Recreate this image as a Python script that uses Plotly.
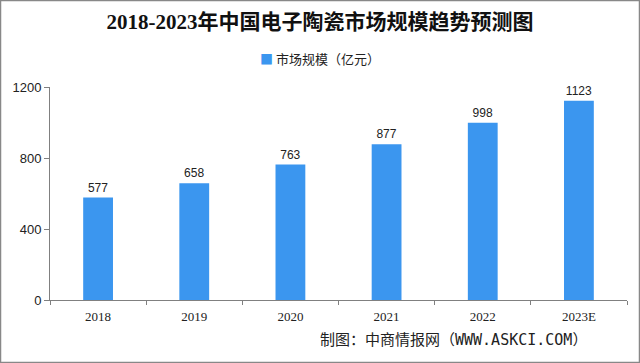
import plotly.graph_objects as go

categories = ["2018", "2019", "2020", "2021", "2022", "2023E"]
values = [577, 658, 763, 877, 998, 1123]
y_ticks = [0, 400, 800, 1200]
title_text = "2018-2023年中国电子陶瓷市场规模趋势预测图"
series_name = "市场规模（亿元）"
source_text = "制图：中商情报网（WWW.ASKCI.COM）"

PW, PH = 577.0, 213.0

fig = go.Figure()
fig.add_trace(go.Bar(
    x=categories, y=values, name=series_name,
    marker=dict(color="#3b96ef", line=dict(width=0)),
    text=[str(v) for v in values], textposition="outside",
    textfont=dict(size=12, color="#222222", family="Liberation Sans, Noto Sans CJK SC"),
    cliponaxis=False, showlegend=False,
))

fig.update_layout(
    width=640, height=363,
    margin=dict(l=50, r=13, t=87, b=63, autoexpand=False),
    paper_bgcolor="white", plot_bgcolor="white",
    bargap=0.69,
    showlegend=False,
    title=dict(text="<b>" + title_text + "</b>", x=0.5, xanchor="center", y=1 - 22 / 363, yref="container",
               yanchor="middle",
               font=dict(size=21, color="#111111", family="Liberation Serif, Noto Sans CJK SC")),
    font=dict(family="Liberation Sans, Noto Sans CJK SC", color="#222222"),
)

fig.update_xaxes(
    type="category", showline=True, linecolor="#808080", linewidth=1,
    ticks="outside", tickson="boundaries", ticklen=4, tickcolor="#808080",
    tickfont=dict(size=13, color="#222222", family="Liberation Serif"),
    ticklabelstandoff=4,
    showgrid=False,
)
fig.update_yaxes(
    range=[0, 1200], tickvals=y_ticks, showline=True, linecolor="#808080", linewidth=1,
    ticks="outside", ticklen=5, tickcolor="#808080",
    tickfont=dict(size=13, color="#222222", family="Liberation Sans"),
    showgrid=False, zeroline=False,
)

# legend drawn as compact text entry
fig.add_annotation(
    text="<span style='color:#3b96ef'>■</span> " + series_name,
    xref="paper", yref="paper", x=(320 - 50) / PW, y=1 + (87 - 58) / PH,
    xanchor="center", yanchor="middle", showarrow=False,
    font=dict(size=13, color="#222222", family="Noto Sans CJK SC"),
)

fig.add_shape(type="rect", xref="paper", yref="paper",
              x0=-49.5 / PW, x1=1 + 12.5 / PW, y0=-62.5 / PH, y1=1 + 86.5 / PH,
              line=dict(color="#888888", width=1.5), layer="above")

fig.add_annotation(text=source_text, xref="paper", yref="paper",
                   x=(318 - 50) / PW, y=-(340 - 300) / PH, xanchor="left", yanchor="middle",
                   showarrow=False, font=dict(size=15, color="#222222", family="DejaVu Sans Mono, Noto Sans CJK SC"))

fig.write_html("out.html")
